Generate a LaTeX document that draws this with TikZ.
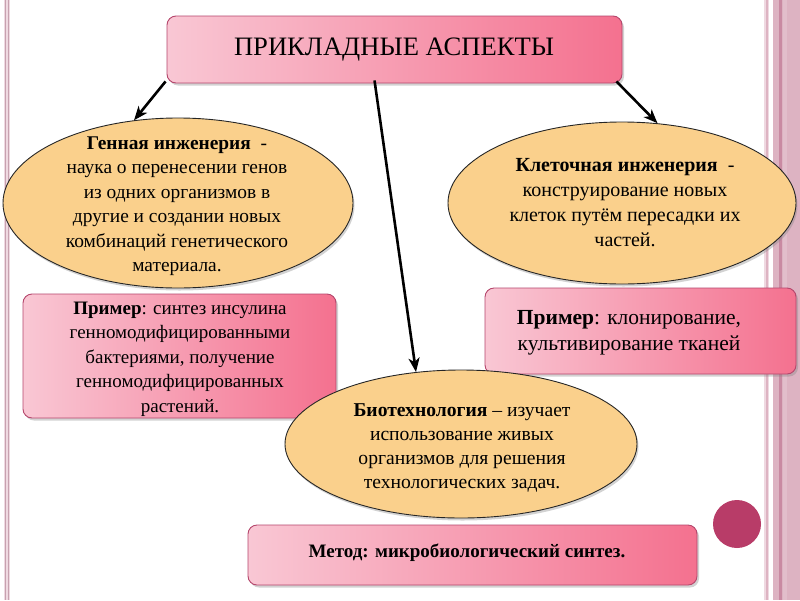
\documentclass[tikz,border=0pt]{standalone}
\usepackage{fontspec}
\setmainfont{Liberation Serif}
\usetikzlibrary{shapes.geometric,shadows,arrows.meta,calc}
\definecolor{pinkL}{HTML}{F9C7D4}
\definecolor{pinkR}{HTML}{F4718F}
\definecolor{pinkB}{HTML}{B5466C}
\definecolor{ochre}{HTML}{FAD08C}
\definecolor{dotc}{HTML}{B83C68}
\definecolor{stripeA}{HTML}{DDB3C2}
\definecolor{stripeB}{HTML}{C98AA2}
\definecolor{stripeC}{HTML}{EFD9E1}
\begin{document}
\begin{tikzpicture}[x=1pt,y=-1pt,
  pbox/.style={draw=pinkB, line width=0.9pt, rounded corners=9pt,
    left color=pinkL, right color=pinkR, inner sep=0pt,
    drop shadow={shadow xshift=2pt,shadow yshift=-2.5pt,opacity=0.35}},
  oval/.style={ellipse, draw=black!85, line width=0.9pt, fill=ochre, inner sep=0pt,
    drop shadow={shadow xshift=1.5pt,shadow yshift=-2.5pt,opacity=0.35}},
  txt/.style={align=center, inner sep=0pt, font=\fontsize{19}{24.5}\selectfont},
  arr/.style={-{Stealth[length=14pt,width=11pt,inset=4pt]}, line width=2.6pt, black}]
\useasboundingbox (0,0) rectangle (800,600);
\fill[white] (0,0) rectangle (800,600);
% left border
\fill[stripeC] (4,0) rectangle (9.5,600);
\draw[stripeA!90!black, line width=1.1pt] (5.5,0) -- (5.5,600);
\draw[stripeA!90!black, line width=1.1pt] (8.5,0) -- (8.5,600);
% right border
\fill[stripeC] (764,0) rectangle (769,600);
\draw[stripeA, line width=2pt] (766.5,0) -- (766.5,600);
\fill[stripeA] (773,0) rectangle (800,600);
\fill[stripeB] (779,0) rectangle (781.5,600);
\fill[stripeA!85!white] (783,0) rectangle (787,600);
% dot
\fill[dotc] (737,524) circle[radius=24];
% boxes
\node[pbox, minimum width=455pt, minimum height=67pt] (top) at (394.5,49.5) {};
\node[txt, font=\fontsize{26.6}{30}\selectfont] (toptxt) at (394,50) {ПРИКЛАДНЫЕ АСПЕКТЫ};
\node[pbox, minimum width=313pt, minimum height=124pt] (ex1) at (179.5,356) {};
\node[txt] (ex1txt) at (180,359) {\textbf{Пример}: синтез инсулина\\генномодифицированными\\бактериями, получение\\генномодифицированных\\растений.};
\node[pbox, minimum width=311pt, minimum height=86pt] (ex2) at (640.5,331) {};
\node[txt, font=\fontsize{21.5}{26}\selectfont] (ex2txt) at (629,333) {\textbf{Пример}: клонирование,\\культивирование тканей};
\node[pbox, minimum width=449pt, minimum height=60pt] (met) at (472.5,555) {};
\node[txt] (mettxt) at (467,553) {\textbf{Метод: микробиологический синтез.}};
% ellipses
\node[oval, minimum width=350pt, minimum height=170pt] (gen) at (178,203) {};
\node[txt, font=\fontsize{19.4}{24.5}\selectfont] (gentxt) at (177,206) {\textbf{Генная инженерия}\ \ -\\наука о перенесении генов\\из одних организмов в\\другие и создании новых\\комбинаций генетического\\материала.};
\node[oval, minimum width=348pt, minimum height=162pt] (kle) at (622,203) {};
\node[txt, font=\fontsize{20}{25}\selectfont] (kletxt) at (625,202.5) {\textbf{Клеточная инженерия}\ \ -\\конструирование новых\\клеток путём пересадки их\\частей.};
\node[oval, minimum width=352pt, minimum height=148pt] (bio) at (461,444) {};
\node[txt, font=\fontsize{19.6}{24}\selectfont] (biotxt) at (462,448) {\textbf{Биотехнология} – изучает\\использование живых\\организмов для решения\\технологических задач.};
% arrows
\draw[arr] ($(top.south west)+(-1,-2)$) -- (gen.118);
\draw[arr] ($(top.south)+(-20,-3)$) -- (bio.122);
\draw[arr] ($(top.south east)+(-6,-2)$) -- (kle.66);
\end{tikzpicture}
\end{document}
